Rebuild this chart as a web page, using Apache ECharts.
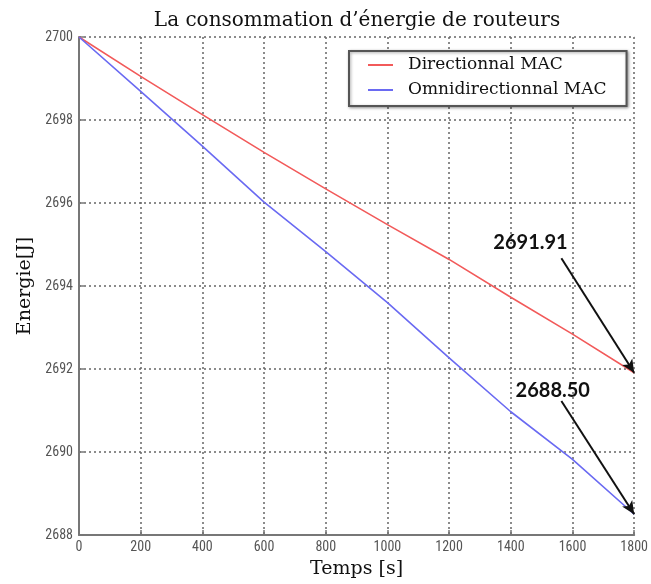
<!DOCTYPE html>
<html>
<head>
<meta charset="utf-8">
<script src="https://cdn.jsdelivr.net/npm/echarts@6/dist/echarts.min.js"></script>
<style>html,body{margin:0;padding:0;background:#fff;}#c{width:651px;height:584px;}</style>
</head>
<body>
<div id="c"></div>
<script>
const times = [0, 200, 400, 600, 800, 1000, 1200, 1400, 1600, 1800];
const directionnal = [2700, 2699.05, 2698.13, 2697.22, 2696.34, 2695.48, 2694.64, 2693.73, 2692.84, 2691.91];
const omnidirectionnal = [2700, 2698.69, 2697.37, 2696.02, 2694.83, 2693.60, 2692.27, 2690.97, 2689.82, 2688.50];
const seriesNames = ['Directionnal MAC', 'Omnidirectionnal MAC'];
const annotLabels = ['2691.91', '2688.50'];
const annotTextAt = [[1464, 2695.05], [1536, 2691.48]];
const arrowFrom = [[1564, 2694.67], [1564, 2691.23]];

const chart = echarts.init(document.getElementById('c'));
const tickFont = "'Liberation Sans Narrow', 'Arial Narrow', 'Roboto Condensed', sans-serif";
const serif = "'DejaVu Serif', serif";

function pair(arr) { return times.map((t, i) => [t, arr[i]]); }
function annot(i, yData) {
  return {
    markLine: {
      silent: true,
      symbol: ['none', 'arrow'],
      symbolSize: [9, 13],
      lineStyle: { color: '#111', width: 2, type: 'solid' },
      label: { show: false },
      data: [[{ coord: arrowFrom[i] }, { coord: [times[times.length - 1], yData[yData.length - 1]] }]]
    },
    markPoint: {
      silent: true,
      symbol: 'circle',
      symbolSize: 1,
      itemStyle: { color: 'rgba(0,0,0,0)' },
      label: {
        show: true, position: 'inside', formatter: annotLabels[i],
        fontFamily: "Lato, 'Open Sans', sans-serif", fontWeight: 'bold', fontSize: 20, color: '#111'
      },
      data: [{ coord: annotTextAt[i] }]
    }
  };
}

chart.setOption({
  animation: false,
  backgroundColor: '#fff',
  title: {
    text: 'La consommation d\u2019énergie de routeurs',
    left: 352, top: 6, textAlign: 'center',
    textStyle: { fontFamily: serif, fontWeight: 'normal', fontSize: 20, color: '#111' }
  },
  legend: {
    left: 349, top: 51,
    orient: 'vertical',
    icon: 'rect',
    itemWidth: 25, itemHeight: 2,
    itemGap: 5,
    padding: [4, 20, 6, 19],
    backgroundColor: '#fff',
    borderColor: '#555', borderWidth: 2,
    shadowBlur: 3, shadowColor: 'rgba(0,0,0,0.35)', shadowOffsetX: 1, shadowOffsetY: 1,
    textStyle: { fontFamily: serif, fontSize: 17, color: '#111', lineHeight: 20, padding: [0, 0, 0, 10] },
    data: seriesNames
  },
  grid: { left: 79, right: 11, top: 37, bottom: 45, containLabel: false },
  xAxis: {
    type: 'value', min: 0, max: 1800, interval: 200,
    name: 'Temps [s]', nameLocation: 'middle', nameGap: 25,
    nameTextStyle: { fontFamily: serif, fontSize: 19, color: '#111' },
    axisLine: { show: true, lineStyle: { color: '#777', width: 2 } },
    axisTick: { show: true, inside: true, length: 5, lineStyle: { color: '#777', width: 1.5 } },
    axisLabel: { fontFamily: tickFont, fontSize: 14, color: '#555', margin: 5, formatter: v => String(v) },
    splitLine: { show: true, lineStyle: { color: '#666', width: 1.5, type: [2, 3] } }
  },
  yAxis: {
    type: 'value', min: 2688, max: 2700, interval: 2,
    name: 'Energie[J]', nameLocation: 'middle', nameGap: 37, nameRotate: 90,
    nameTextStyle: { fontFamily: serif, fontSize: 19, color: '#111' },
    axisLine: { show: true, lineStyle: { color: '#777', width: 2 } },
    axisTick: { show: true, inside: true, length: 5, lineStyle: { color: '#777', width: 1.5 } },
    axisLabel: { fontFamily: tickFont, fontSize: 14, color: '#555', margin: 6, formatter: v => String(v) },
    splitLine: { show: true, lineStyle: { color: '#666', width: 1.5, type: [2, 3] } }
  },
  series: [
    Object.assign({
      name: seriesNames[0], type: 'line', data: pair(directionnal),
      showSymbol: false, symbol: 'none',
      lineStyle: { color: '#f25a5a', width: 1.6 }, itemStyle: { color: '#f25a5a' }, z: 3
    }, annot(0, directionnal)),
    Object.assign({
      name: seriesNames[1], type: 'line', data: pair(omnidirectionnal),
      showSymbol: false, symbol: 'none',
      lineStyle: { color: '#6a6af2', width: 1.6 }, itemStyle: { color: '#6a6af2' }, z: 3
    }, annot(1, omnidirectionnal))
  ]
});
</script>
</body>
</html>
